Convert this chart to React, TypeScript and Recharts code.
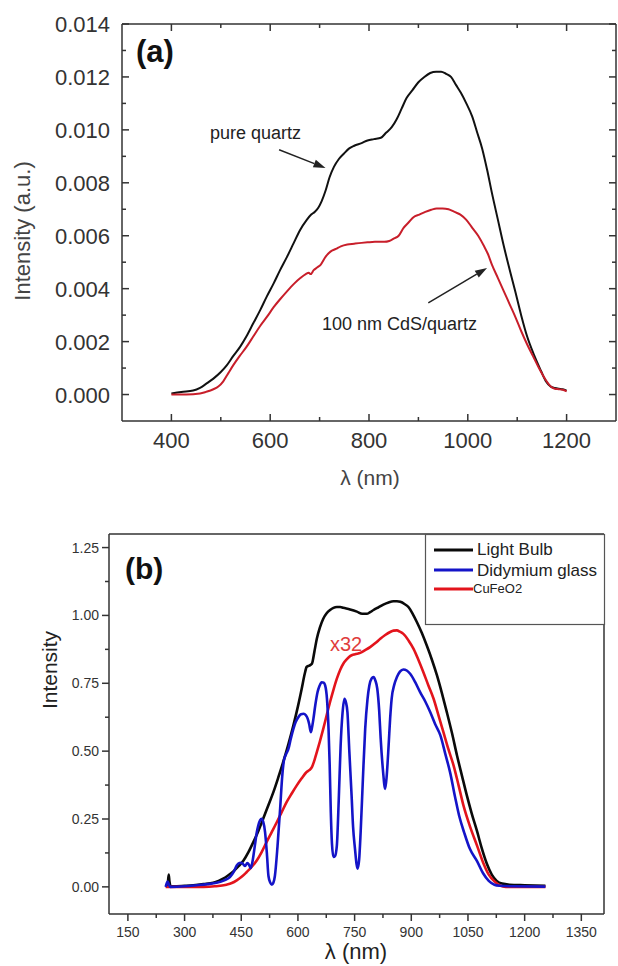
import React from 'react';
import { LineChart, Line, XAxis, YAxis, ReferenceLine } from 'recharts';

const FONT = '"Liberation Sans", Arial, Helvetica, sans-serif';

// ---------- Panel (a) data ----------
const quartzWl = [400, 420, 444, 458, 470, 485, 500, 512, 525, 539, 552, 566, 580, 593, 607, 620, 634, 647, 660, 674, 683, 690, 697, 704, 712, 720, 729, 739, 749, 760, 770, 785, 797, 810, 824, 835, 846, 856, 866, 876, 888, 900, 912, 924, 936, 946, 956, 966, 976, 986, 997, 1009, 1019, 1029, 1039, 1049, 1061, 1073, 1085, 1096, 1108, 1120, 1134, 1148, 1158, 1168, 1176, 1184, 1192, 1200];
const quartzVal = [0.00004, 0.0001, 0.00015, 0.00025, 0.0004, 0.0006, 0.00085, 0.0011, 0.00145, 0.0018, 0.0022, 0.0027, 0.0032, 0.0037, 0.0042, 0.0047, 0.0052, 0.0057, 0.0062, 0.0066, 0.0068, 0.0069, 0.00705, 0.0073, 0.0077, 0.0082, 0.0086, 0.0089, 0.0091, 0.0093, 0.0094, 0.0095, 0.0096, 0.00965, 0.0097, 0.0099, 0.0101, 0.0104, 0.0108, 0.0112, 0.0115, 0.0118, 0.012, 0.01215, 0.0122, 0.0122, 0.01212, 0.012, 0.0117, 0.0114, 0.011, 0.0105, 0.0099, 0.0093, 0.0085, 0.0076, 0.0066, 0.0056, 0.0047, 0.0039, 0.003, 0.0022, 0.0015, 0.0009, 0.0005, 0.0003, 0.00025, 0.00022, 0.0002, 0.00015];

const cdsWl = [400, 430, 458, 470, 485, 495, 505, 515, 525, 538, 552, 566, 580, 594, 607, 620, 634, 648, 661, 672, 678, 682, 688, 695, 702, 712, 722, 733, 743, 756, 770, 785, 797, 812, 831, 841, 851, 860, 870, 880, 890, 902, 914, 926, 937, 949, 961, 973, 985, 997, 1009, 1021, 1033, 1041, 1049, 1061, 1073, 1085, 1097, 1108, 1120, 1132, 1144, 1156, 1168, 1176, 1184, 1192, 1200];
const cdsVal = [0.0, 0.0, 0.00004, 0.0001, 0.0002, 0.0003, 0.0005, 0.0008, 0.0011, 0.00145, 0.0018, 0.0022, 0.0026, 0.00295, 0.0033, 0.0036, 0.0039, 0.00418, 0.0044, 0.00455, 0.0046, 0.00455, 0.0047, 0.0048, 0.0049, 0.0052, 0.0054, 0.0055, 0.0056, 0.00567, 0.0057, 0.00573, 0.00575, 0.00577, 0.00577, 0.0058, 0.0059, 0.006, 0.0063, 0.0065, 0.0067, 0.0068, 0.0069, 0.00698, 0.00703, 0.00703, 0.007, 0.0069, 0.0068, 0.0066, 0.0063, 0.006, 0.0056, 0.0053, 0.0049, 0.0044, 0.0039, 0.0034, 0.0029, 0.0024, 0.0019, 0.00145, 0.001, 0.0006, 0.0003, 0.00022, 0.0002, 0.00018, 0.00012];

const aXTicks = [400, 500, 600, 700, 800, 900, 1000, 1100, 1200];
const aYTicks = [0, 0.001, 0.002, 0.003, 0.004, 0.005, 0.006, 0.007, 0.008, 0.009, 0.01, 0.011, 0.012, 0.013, 0.014];

// ---------- Panel (b) data ----------
const bulbWl = [250, 255, 258, 260, 263, 270, 300, 323, 350, 376, 390, 402, 415, 429, 443, 456, 469, 482, 495, 508, 521, 535, 548, 561, 575, 588, 600, 610, 618, 623, 630, 637, 644, 650, 658, 667, 676, 685, 694, 703, 712, 720, 738, 756, 770, 782, 791, 800, 813, 826, 840, 853, 862, 871, 882, 893, 904, 915, 928, 941, 955, 968, 981, 994, 1008, 1021, 1034, 1047, 1060, 1074, 1087, 1100, 1113, 1126, 1140, 1160, 1200, 1255];
const bulbVal = [0.0, 0.005, 0.045, 0.02, 0.003, 0.002, 0.004, 0.006, 0.01, 0.015, 0.022, 0.03, 0.042, 0.057, 0.076, 0.097, 0.128, 0.165, 0.205, 0.251, 0.298, 0.349, 0.403, 0.46, 0.527, 0.595, 0.665, 0.73, 0.785, 0.81, 0.815, 0.822, 0.87, 0.914, 0.955, 0.988, 1.008, 1.02, 1.028, 1.031, 1.031, 1.028, 1.022, 1.014, 1.006, 1.006, 1.012, 1.02, 1.03, 1.04, 1.048, 1.052, 1.052, 1.05, 1.042, 1.03, 1.005, 0.975, 0.935, 0.889, 0.835, 0.779, 0.714, 0.644, 0.565, 0.484, 0.41, 0.337, 0.27, 0.205, 0.14, 0.085, 0.045, 0.022, 0.012, 0.008, 0.006, 0.004];

const didyWl = [250, 255, 258, 262, 300, 332, 360, 385, 405, 420, 430, 438, 445, 451, 456, 460, 466, 471, 475, 480, 486, 491, 495, 500, 504, 508, 513, 518, 522, 527, 531, 535, 539, 546, 553, 558, 563, 569, 575, 581, 588, 594, 601, 608, 615, 621, 626, 630, 634, 637, 641, 646, 652, 657, 663, 668, 672, 677, 681, 684, 687, 690, 694, 698, 703, 708, 713, 718, 723, 727, 731, 736, 742, 746, 751, 755, 758, 762, 766, 772, 778, 784, 789, 795, 800, 805, 810, 815, 819, 825, 831, 835, 840, 844, 848, 855, 862, 870, 879, 888, 897, 910, 923, 937, 950, 963, 977, 990, 1003, 1016, 1027, 1040, 1055, 1074, 1090, 1105, 1120, 1135, 1160, 1255];
const didyVal = [0.0, 0.02, 0.01, 0.0, 0.002, 0.006, 0.01, 0.015, 0.024, 0.036, 0.055, 0.079, 0.088, 0.089, 0.082, 0.077, 0.088, 0.08, 0.069, 0.095, 0.152, 0.2, 0.226, 0.246, 0.251, 0.24, 0.202, 0.12, 0.04, 0.015, 0.008, 0.015, 0.04, 0.15, 0.29, 0.4, 0.466, 0.49, 0.509, 0.545, 0.582, 0.607, 0.625, 0.636, 0.638, 0.632, 0.619, 0.598, 0.57, 0.585, 0.619, 0.67, 0.718, 0.74, 0.754, 0.752, 0.742, 0.69, 0.582, 0.45, 0.275, 0.16, 0.11, 0.113, 0.152, 0.32, 0.521, 0.64, 0.693, 0.68, 0.644, 0.5, 0.337, 0.22, 0.14, 0.085, 0.067, 0.1, 0.202, 0.4, 0.582, 0.69, 0.742, 0.768, 0.773, 0.76, 0.73, 0.65, 0.546, 0.43, 0.361, 0.41, 0.521, 0.62, 0.693, 0.745, 0.773, 0.793, 0.801, 0.797, 0.785, 0.755, 0.718, 0.683, 0.644, 0.6, 0.558, 0.49, 0.42, 0.33, 0.26, 0.2, 0.14, 0.095, 0.05, 0.022, 0.008, 0.004, 0.002, 0.001];

const cufeWl = [250, 300, 350, 380, 411, 425, 438, 451, 464, 478, 491, 504, 517, 530, 544, 557, 570, 584, 597, 610, 623, 630, 637, 644, 650, 658, 667, 676, 685, 694, 703, 712, 720, 729, 738, 751, 765, 778, 791, 805, 818, 831, 844, 853, 862, 870, 879, 893, 906, 919, 932, 945, 959, 972, 985, 998, 1012, 1025, 1038, 1056, 1074, 1090, 1105, 1120, 1135, 1150, 1255];
const cufeVal = [0.0, 0.0, 0.0, 0.002, 0.008, 0.014, 0.024, 0.037, 0.054, 0.074, 0.097, 0.128, 0.165, 0.2, 0.238, 0.275, 0.312, 0.345, 0.374, 0.4, 0.423, 0.43, 0.441, 0.468, 0.496, 0.535, 0.582, 0.632, 0.681, 0.726, 0.767, 0.8, 0.822, 0.838, 0.85, 0.857, 0.862, 0.872, 0.883, 0.898, 0.914, 0.928, 0.939, 0.944, 0.945, 0.94, 0.932, 0.907, 0.877, 0.836, 0.791, 0.743, 0.693, 0.632, 0.57, 0.508, 0.447, 0.375, 0.3, 0.22, 0.152, 0.09, 0.045, 0.02, 0.005, 0.0, 0.0];

const bXTicks = [150, 225, 300, 375, 450, 525, 600, 675, 750, 825, 900, 975, 1050, 1125, 1200, 1275, 1350];
const bYTicks = [0, 0.125, 0.25, 0.375, 0.5, 0.625, 0.75, 0.875, 1.0, 1.125, 1.25];

// arrow annotations (data coordinates)
const arrowQuartz = [{ x: 618, y: 0.00925 }, { x: 712, y: 0.00856 }];
const arrowCds = [{ x: 920, y: 0.00346 }, { x: 1039, y: 0.00478 }];

const toPts = (xs: number[], ys: number[]) => xs.map((x, i) => ({ x, y: ys[i] }));

const quartzData = toPts(quartzWl, quartzVal);
const cdsData = toPts(cdsWl, cdsVal);
const bulbData = toPts(bulbWl, bulbVal);
const didyData = toPts(didyWl, didyVal);
const cufeData = toPts(cufeWl, cufeVal);

const A_STROKE = '#333';
const B_STROKE = '#333';

// ----- Panel (a) ticks (inward) -----
const ABottomTick = (p: any) => {
  const v = p.payload.value;
  const major = v % 200 === 0;
  return (
    <g>
      <line x1={p.x} x2={p.x} y1={p.y} y2={p.y - (major ? 7 : 4)} stroke={A_STROKE} strokeWidth={1.5} />
      {major && (
        <text x={p.x} y={p.y + 27} textAnchor="middle" fontSize={22} fill="#333" fontFamily={FONT}>{v}</text>
      )}
    </g>
  );
};
const ATopTick = (p: any) => {
  const v = p.payload.value;
  const major = v % 200 === 0;
  return <line x1={p.x} x2={p.x} y1={p.y} y2={p.y + (major ? 7 : 4)} stroke={A_STROKE} strokeWidth={1.5} />;
};
const ALeftTick = (p: any) => {
  const v = p.payload.value;
  const major = Math.round(v * 1000) % 2 === 0;
  return (
    <g>
      <line x1={p.x} x2={p.x + (major ? 7 : 4)} y1={p.y} y2={p.y} stroke={A_STROKE} strokeWidth={1.5} />
      {major && (
        <text x={p.x - 12} y={p.y + 8} textAnchor="end" fontSize={22} fill="#333" fontFamily={FONT}>{v.toFixed(3)}</text>
      )}
    </g>
  );
};
const ARightTick = (p: any) => {
  const v = p.payload.value;
  const major = Math.round(v * 1000) % 2 === 0;
  return <line x1={p.x} x2={p.x - (major ? 7 : 4)} y1={p.y} y2={p.y} stroke={A_STROKE} strokeWidth={1.5} />;
};

// ----- Panel (b) ticks (outward) -----
const BBottomTick = (p: any) => {
  const v = p.payload.value;
  const major = v % 150 === 0;
  return (
    <g>
      <line x1={p.x} x2={p.x} y1={p.y} y2={p.y + (major ? 7 : 4)} stroke={B_STROKE} strokeWidth={1.5} />
      {major && (
        <text x={p.x} y={p.y + 23} textAnchor="middle" fontSize={14} fill="#333" fontFamily={FONT}>{v}</text>
      )}
    </g>
  );
};
const BLeftTick = (p: any) => {
  const v = p.payload.value;
  const major = Math.round(v * 1000) % 250 === 0;
  return (
    <g>
      <line x1={p.x} x2={p.x - (major ? 7 : 4)} y1={p.y} y2={p.y} stroke={B_STROKE} strokeWidth={1.5} />
      {major && (
        <text x={p.x - 10} y={p.y + 5} textAnchor="end" fontSize={14} fill="#333" fontFamily={FONT}>{v.toFixed(2)}</text>
      )}
    </g>
  );
};

const ArrowShape = (p: any) => {
  const { x1, y1, x2, y2 } = p;
  const dx = x2 - x1, dy = y2 - y1;
  const len = Math.sqrt(dx * dx + dy * dy) || 1;
  const ux = dx / len, uy = dy / len;
  const hl = 12, hw = 4;
  const bx = x2 - ux * hl, by = y2 - uy * hl;
  const pts = `${x2},${y2} ${bx - uy * hw},${by + ux * hw} ${bx + uy * hw},${by - ux * hw}`;
  return (
    <g>
      <line x1={x1} y1={y1} x2={bx} y2={by} stroke="#222" strokeWidth={1.5} />
      <polygon points={pts} fill="#222" />
    </g>
  );
};

export default function App() {
  return (
    <div style={{ position: 'absolute', left: 0, top: 0, width: 618, height: 966, background: '#fff', overflow: 'hidden' }}>
      <LineChart width={618} height={500} margin={{ top: 23, right: 1, bottom: 49, left: 62 }}>
        <XAxis xAxisId="b" dataKey="x" type="number" domain={[300, 1300]} allowDataOverflow ticks={aXTicks} interval={0}
          tickSize={0} tickMargin={0} tick={ABottomTick} height={30} axisLine={{ stroke: A_STROKE, strokeWidth: 1.5 }} />
        <XAxis xAxisId="t" orientation="top" dataKey="x" type="number" domain={[300, 1300]} allowDataOverflow ticks={aXTicks} interval={0}
          tickSize={0} tickMargin={0} tick={ATopTick} height={1} axisLine={{ stroke: A_STROKE, strokeWidth: 1.5 }} />
        <YAxis yAxisId="l" type="number" domain={[-0.001, 0.014]} allowDataOverflow ticks={aYTicks} interval={0}
          tickSize={0} tickMargin={0} tick={ALeftTick} width={60} axisLine={{ stroke: A_STROKE, strokeWidth: 1.5 }} />
        <YAxis yAxisId="r" orientation="right" type="number" domain={[-0.001, 0.014]} allowDataOverflow ticks={aYTicks} interval={0}
          tickSize={0} tickMargin={0} tick={ARightTick} width={1} axisLine={{ stroke: A_STROKE, strokeWidth: 1.5 }} />
        <Line xAxisId="b" yAxisId="l" data={quartzData} dataKey="y" type="monotone" stroke="#111" strokeWidth={2} dot={false} isAnimationActive={false} />
        <Line xAxisId="b" yAxisId="l" data={cdsData} dataKey="y" type="monotone" stroke="#c81e2a" strokeWidth={2} dot={false} isAnimationActive={false} />
        <ReferenceLine xAxisId="b" yAxisId="l" segment={arrowQuartz} ifOverflow="visible" shape={ArrowShape} />
        <ReferenceLine xAxisId="b" yAxisId="l" segment={arrowCds} ifOverflow="visible" shape={ArrowShape} />
      </LineChart>

      <LineChart width={618} height={466} margin={{ top: 33, right: 13, bottom: 22, left: 49 }}>
        <XAxis xAxisId="b" dataKey="x" type="number" domain={[100, 1410]} allowDataOverflow ticks={bXTicks} interval={0}
          tickSize={0} tickMargin={0} tick={BBottomTick} height={30} axisLine={{ stroke: B_STROKE, strokeWidth: 1.5 }} />
        <XAxis xAxisId="t" orientation="top" dataKey="x" type="number" domain={[100, 1410]} allowDataOverflow tick={false}
          tickLine={false} height={1} axisLine={{ stroke: B_STROKE, strokeWidth: 1.5 }} />
        <YAxis yAxisId="l" type="number" domain={[-0.1, 1.3]} allowDataOverflow ticks={bYTicks} interval={0}
          tickSize={0} tickMargin={0} tick={BLeftTick} width={60} axisLine={{ stroke: B_STROKE, strokeWidth: 1.5 }} />
        <YAxis yAxisId="r" orientation="right" type="number" domain={[-0.1, 1.3]} allowDataOverflow tick={false}
          tickLine={false} width={1} axisLine={{ stroke: B_STROKE, strokeWidth: 1.5 }} />
        <Line xAxisId="b" yAxisId="l" data={bulbData} dataKey="y" type="monotone" stroke="#0a0a0a" strokeWidth={2.6} dot={false} isAnimationActive={false} />
        <Line xAxisId="b" yAxisId="l" data={cufeData} dataKey="y" type="monotone" stroke="#e3141c" strokeWidth={2.6} dot={false} isAnimationActive={false} />
        <Line xAxisId="b" yAxisId="l" data={didyData} dataKey="y" type="monotone" stroke="#1414c8" strokeWidth={2.6} dot={false} isAnimationActive={false} />
      </LineChart>

      <svg width={618} height={966} style={{ position: 'absolute', left: 0, top: 0, pointerEvents: 'none' }} fontFamily={FONT}>
        {/* panel (a) texts */}
        <text x={136} y={62} fontSize={31} fontWeight="bold" fill="#111">(a)</text>
        <text transform="translate(30,231) rotate(-90)" textAnchor="middle" fontSize={22} fill="#444">Intensity (a.u.)</text>
        <text x={370} y={485} textAnchor="middle" fontSize={21} fill="#444">λ (nm)</text>
        <text x={210} y={139} fontSize={18} fill="#222">pure quartz</text>
        <text x={322} y={330} fontSize={18} fill="#222">100 nm CdS/quartz</text>

        {/* panel (b) texts */}
        <text x={125} y={579} fontSize={30} fontWeight="bold" fill="#111">(b)</text>
        <text transform="translate(57,670) rotate(-90)" textAnchor="middle" fontSize={21} fill="#222">Intensity</text>
        <text x={356} y={959} textAnchor="middle" fontSize={22} fill="#222">λ (nm)</text>
        <text x={330} y={651} fontSize={20} fill="#e03c3c">x32</text>

        {/* legend */}
        <rect x={425.5} y={534.5} width={179} height={90} fill="#fff" stroke="#555" strokeWidth={1.2} />
        <line x1={434} x2={473} y1={550} y2={550} stroke="#0a0a0a" strokeWidth={3} />
        <text x={477} y={555} fontSize={17} fill="#222">Light Bulb</text>
        <line x1={434} x2={473} y1={570} y2={570} stroke="#1414c8" strokeWidth={3} />
        <text x={477} y={576} fontSize={17} fill="#222">Didymium glass</text>
        <line x1={434} x2={473} y1={589} y2={589} stroke="#e3141c" strokeWidth={3} />
        <text x={473} y={593} fontSize={13} fill="#222">CuFeO2</text>
      </svg>
    </div>
  );
}
